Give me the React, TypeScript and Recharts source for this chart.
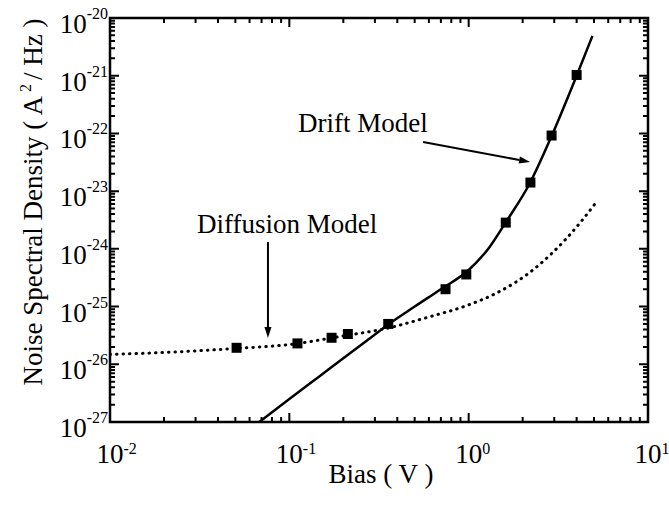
import { ComposedChart, Line, Scatter, XAxis, YAxis, ReferenceLine } from 'recharts';

// measured points (squares)
const measuredBias = [0.0508, 0.111, 0.172, 0.212, 0.356, 0.743, 0.97, 1.61, 2.21, 2.9, 4.0];
const measuredNoise = [1.93e-26, 2.3e-26, 2.88e-26, 3.35e-26, 5.0e-26, 2.0e-25, 3.6e-25, 2.85e-24, 1.41e-23, 9.2e-23, 1.03e-21];

// drift model (solid)
const driftBias = [0.068, 0.1, 0.15, 0.2, 0.27, 0.356, 0.5, 0.7, 1.0, 1.3, 1.6, 2.2, 2.9, 4.0, 4.9];
const driftNoise = [1.0e-27, 2.5e-27, 6.45e-27, 1.27e-26, 2.55e-26, 4.9e-26, 1.0e-25, 2.0e-25, 4.3e-25, 1.05e-24, 2.8e-24, 1.4e-23, 9.0e-23, 1.0e-21, 4.9e-21];

// diffusion model (dotted)
const diffusionBias = [0.01, 0.02, 0.05, 0.1, 0.2, 0.35, 0.6, 1.0, 1.4, 1.8, 2.2, 2.9, 3.5, 4.2, 5.1];
const diffusionNoise = [1.48e-26, 1.6e-26, 1.88e-26, 2.2e-26, 3.1e-26, 4.2e-26, 6.6e-26, 1.07e-25, 1.66e-25, 2.56e-25, 3.94e-25, 8.3e-25, 1.5e-24, 2.88e-24, 6.2e-24];

const xDecades = [0.01, 0.1, 1, 10];
const yDecades = [1e-27, 1e-26, 1e-25, 1e-24, 1e-23, 1e-22, 1e-21, 1e-20];
const minorSteps = [2, 3, 4, 5, 6, 7, 8, 9];

const withMinor = (decades: number[]) =>
  decades.flatMap((d, i) => (i < decades.length - 1 ? [d, ...minorSteps.map((k) => k * d)] : [d]));

const xTicks = withMinor(xDecades);
const yTicks = withMinor(yDecades);
const [xMin, xMax] = [xDecades[0], xDecades[xDecades.length - 1]];
const [yMin, yMax] = [yDecades[0], yDecades[yDecades.length - 1]];

const measured = measuredBias.map((x, i) => ({ x, y: measuredNoise[i] }));
const drift = driftBias.map((x, i) => ({ x, y: driftNoise[i] }));
const diffusion = diffusionBias.map((x, i) => ({ x, y: diffusionNoise[i] }));

const W = 669;
const H = 506;
const M = { top: 18, right: 21, left: 0, bottom: 0 };
const Y_W = 110;
const X_H = 84;
const FONT = '"Liberation Serif", "Times New Roman", serif';

// plot box, same as the one recharts lays out from margin + axis sizes
const PLOT_L = M.left + Y_W;
const PLOT_R = W - M.right;
const PLOT_T = M.top;
const PLOT_B = H - M.bottom - X_H;

const logPos = (v: number, lo: number, hi: number) =>
  (Math.log10(v) - Math.log10(lo)) / (Math.log10(hi) - Math.log10(lo));
const frameX = (v: number) => PLOT_L + logPos(v, xMin, xMax) * (PLOT_R - PLOT_L);
const frameY = (v: number) => PLOT_B - logPos(v, yMin, yMax) * (PLOT_B - PLOT_T);

const expOf = (v: number) => {
  const l = Math.log10(v);
  const e = Math.round(l);
  return { e, major: Math.abs(l - e) < 1e-6 };
};

function XTick(props: any) {
  const { x, y, payload } = props;
  const { e, major } = expOf(payload.value);
  if (!major) return <g />;
  return (
    <text x={x - 13.5} y={y + 41} fontSize={27} fontFamily={FONT} fill="#000">
      10
      <tspan dy={-9} fontSize={16}>{e}</tspan>
    </text>
  );
}

function YTick(props: any) {
  const { x, y, payload } = props;
  const { e, major } = expOf(payload.value);
  if (!major) return <g />;
  return (
    <text x={x - 2} y={y + 15} textAnchor="end" fontSize={27} fontFamily={FONT} fill="#000">
      10
      <tspan dy={-14} fontSize={16}>{e}</tspan>
    </text>
  );
}

const Square = (p: any) => <rect x={p.cx - 5} y={p.cy - 5} width={10} height={10} fill="#000" />;

const Arrow = (p: any) => {
  const { x1, y1, x2, y2 } = p;
  const a = Math.atan2(y2 - y1, x2 - x1);
  const L = 11;
  const hw = 3.5;
  const bx = x2 - L * Math.cos(a);
  const by = y2 - L * Math.sin(a);
  const px = -Math.sin(a) * hw;
  const py = Math.cos(a) * hw;
  return (
    <g>
      <line x1={x1} y1={y1} x2={bx} y2={by} stroke="#000" strokeWidth={2} />
      <polygon points={`${x2},${y2} ${bx + px},${by + py} ${bx - px},${by - py}`} fill="#000" />
    </g>
  );
};

// inward ticks on all four sides
const tickPath = [
  ...xTicks.map((v) => {
    const x = frameX(v);
    const len = expOf(v).major ? 9 : 5;
    return `M${x},${PLOT_B}V${PLOT_B - len}M${x},${PLOT_T}V${PLOT_T + len}`;
  }),
  ...yTicks.map((v) => {
    const y = frameY(v);
    const len = expOf(v).major ? 9 : 5;
    return `M${PLOT_L},${y}H${PLOT_L + len}M${PLOT_R},${y}H${PLOT_R - len}`;
  }),
].join('');

export default function App() {
  return (
    <div style={{ position: 'absolute', left: 0, top: 0, width: W, height: H, background: '#fff' }}>
      <ComposedChart width={W} height={H} margin={M}>
        <XAxis
          dataKey="x"
          type="number"
          scale="log"
          domain={[xMin, xMax]}
          allowDataOverflow
          ticks={xTicks}
          interval={0}
          height={X_H}
          axisLine={false}
          tickLine={false}
          tickSize={0}
          tickMargin={0}
          tick={<XTick />}
        />
        <YAxis
          dataKey="y"
          type="number"
          scale="log"
          domain={[yMin, yMax]}
          allowDataOverflow
          ticks={yTicks}
          interval={0}
          width={Y_W}
          axisLine={false}
          tickLine={false}
          tickSize={0}
          tickMargin={0}
          tick={<YTick />}
        />
        <Line
          data={diffusion}
          dataKey="y"
          type="monotone"
          stroke="#000"
          strokeWidth={3}
          strokeDasharray="0.5 6"
          strokeLinecap="round"
          dot={false}
          activeDot={false}
          isAnimationActive={false}
        />
        <Line
          data={drift}
          dataKey="y"
          type="monotone"
          stroke="#000"
          strokeWidth={2.5}
          dot={false}
          activeDot={false}
          isAnimationActive={false}
        />
        <Scatter data={measured} dataKey="y" shape={Square} isAnimationActive={false} />
        <ReferenceLine segment={[{ x: 0.557, y: 7.1e-23 }, { x: 2.2, y: 3.2e-23 }]} shape={Arrow} />
        <ReferenceLine segment={[{ x: 0.076, y: 1.31e-24 }, { x: 0.076, y: 2.84e-26 }]} shape={Arrow} />
      </ComposedChart>
      <svg width={W} height={H} style={{ position: 'absolute', left: 0, top: 0, pointerEvents: 'none' }}>
        <path d={tickPath} stroke="#000" strokeWidth={2} fill="none" />
        <rect
          x={PLOT_L}
          y={PLOT_T}
          width={PLOT_R - PLOT_L}
          height={PLOT_B - PLOT_T}
          fill="none"
          stroke="#000"
          strokeWidth={2.5}
        />
        <text x={298} y={132} fontSize={27} fontFamily={FONT} fill="#000">Drift Model</text>
        <text x={197} y={233} fontSize={27} fontFamily={FONT} fill="#000">Diffusion Model</text>
        <text x={381} y={483} textAnchor="middle" fontSize={27} fontFamily={FONT} fill="#000">Bias ( V )</text>
        <text transform="translate(42,202) rotate(-90)" textAnchor="middle" fontSize={27} fontFamily={FONT} fill="#000">
          Noise Spectral Density ( A
          <tspan dy={-11} fontSize={16}> 2 </tspan>
          <tspan dy={11}> / Hz )</tspan>
        </text>
      </svg>
    </div>
  );
}
